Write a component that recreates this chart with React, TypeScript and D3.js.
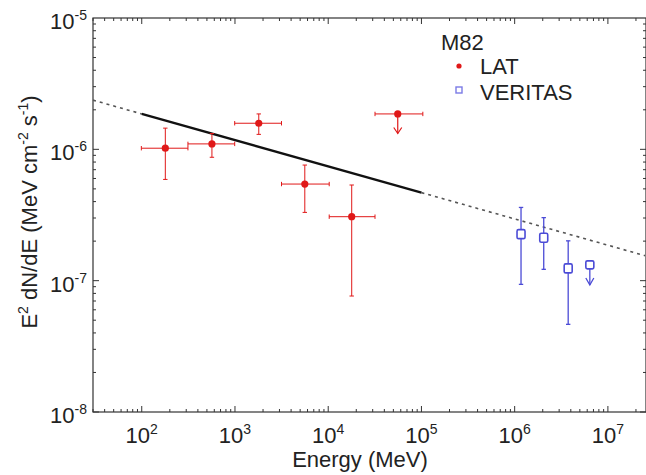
import React from "react";
import * as d3 from "d3";

// ---- data ----
const latE = [179, 566, 1800, 5610, 17870];
const latEmin = [99, 313, 993, 3155, 10250];
const latEmax = [313, 993, 3155, 10250, 31770];
const latF = [1.02e-6, 1.1e-6, 1.58e-6, 5.44e-7, 3.07e-7];
const latFlo = [5.9e-7, 8.7e-7, 1.3e-6, 3.31e-7, 7.64e-8];
const latFhi = [1.45e-6, 1.32e-6, 1.86e-6, 7.59e-7, 5.35e-7];

const latUlE = [55700];
const latUlEmin = [31770];
const latUlEmax = [103500];
const latUlF = [1.86e-6];
const latUlTip = [1.32e-6];

const verE = [1.17e6, 2.05e6, 3.75e6];
const verF = [2.26e-7, 2.12e-7, 1.24e-7];
const verFlo = [9.37e-8, 1.22e-7, 4.65e-8];
const verFhi = [3.61e-7, 3.02e-7, 2.01e-7];

const verUlE = [6.4e6];
const verUlF = [1.32e-7];
const verUlTip = [9.27e-8];

const modelE = [30, 100, 1e5, 2.5e7];
const modelF = [2.37e-6, 1.86e-6, 4.68e-7, 1.55e-7];

const xTickExp = [2, 3, 4, 5, 6, 7];
const yTickExp = [-5, -6, -7, -8];

const legendTitle = "M82";
const legendLabels = ["LAT", "VERITAS"];

// ---- layout ----
const W = 646;
const H = 475;
const left = 93;
const right = 645;
const frameRight = 646;
const top = 18;
const bottom = 412;

const RED = "#e01818";
const BLUE = "#4b4bd6";
const FONT = "'Liberation Sans', Arial, Helvetica, sans-serif";

export default function App() {
  const x = d3.scaleLog().domain([30, 2.5e7]).range([left, right]);
  const y = d3.scaleLog().domain([1e-8, 1e-5]).range([bottom, top]);

  const line = d3
    .line<[number, number]>()
    .x((d) => x(d[0]))
    .y((d) => y(d[1]));

  const pts = modelE.map((e, i) => [e, modelF[i]] as [number, number]);

  // minor ticks
  const xMinor: number[] = [];
  for (let p = 1; p <= 7; p++) {
    for (let m = 1; m <= 9; m++) {
      const v = m * Math.pow(10, p);
      if (v >= 30 && v <= 2.5e7) xMinor.push(v);
    }
  }
  const yMinor: number[] = [];
  for (let p = -8; p <= -6; p++) {
    for (let m = 1; m <= 9; m++) {
      const v = m * Math.pow(10, p);
      if (v >= 1e-8 && v <= 1e-5) yMinor.push(v);
    }
  }
  const isMajor = (v: number) => Math.abs(Math.log10(v) - Math.round(Math.log10(v))) < 1e-9;

  const cap = 2.2;

  return (
    <svg
      width={W}
      height={H}
      style={{ position: "absolute", left: 0, top: 0, background: "#fff" }}
      fontFamily={FONT}
    >
      <rect x={0} y={0} width={W} height={H} fill="#fff" />

      {/* frame */}
      <rect
        x={left}
        y={top}
        width={frameRight - left}
        height={bottom - top}
        fill="none"
        stroke="#333"
        strokeWidth={1.2}
      />

      {/* x ticks */}
      {xMinor.map((v, i) => {
        const len = isMajor(v) ? 6 : 3;
        const px = x(v);
        return (
          <g key={"xt" + i} stroke="#333" strokeWidth={1}>
            <line x1={px} x2={px} y1={bottom} y2={bottom - len} />
            <line x1={px} x2={px} y1={top} y2={top + len} />
          </g>
        );
      })}
      {/* y ticks */}
      {yMinor.map((v, i) => {
        const len = isMajor(v) ? 6 : 3;
        const py = y(v);
        return (
          <g key={"yt" + i} stroke="#333" strokeWidth={1}>
            <line x1={left} x2={left + len} y1={py} y2={py} />
            <line x1={frameRight} x2={frameRight - len} y1={py} y2={py} />
          </g>
        );
      })}

      {/* x tick labels */}
      {xTickExp.map((e) => (
        <text
          key={"xl" + e}
          x={x(Math.pow(10, e))}
          y={bottom + 31}
          textAnchor="middle"
          fontSize={22}
          fill="#222"
        >
          <tspan>10</tspan>
          <tspan dy={-9} fontSize={14}>
            {String(e)}
          </tspan>
        </text>
      ))}

      {/* y tick labels */}
      {yTickExp.map((e) => (
        <text
          key={"yl" + e}
          x={left - 6}
          y={y(Math.pow(10, e)) + 11}
          textAnchor="end"
          fontSize={22}
          fill="#222"
        >
          <tspan>10</tspan>
          <tspan dy={-9} fontSize={14}>
            {"-" + String(-e)}
          </tspan>
        </text>
      ))}

      {/* axis titles */}
      <text
        x={(left + right) / 2 - 9}
        y={467}
        textAnchor="middle"
        fontSize={22}
        fill="#222"
      >
        Energy (MeV)
      </text>
      <text
        transform={`translate(37, ${(top + bottom) / 2 - 3}) rotate(-90)`}
        textAnchor="middle"
        fontSize={22}
        fill="#222"
      >
        <tspan>E</tspan>
        <tspan dy={-9} fontSize={14}>2</tspan>
        <tspan dy={9}> dN/dE (MeV cm</tspan>
        <tspan dy={-9} fontSize={14}>-2</tspan>
        <tspan dy={9}> s</tspan>
        <tspan dy={-9} fontSize={14}>-1</tspan>
        <tspan dy={9}>)</tspan>
      </text>

      {/* model line */}
      <path
        d={line([pts[0], pts[1]]) || ""}
        fill="none"
        stroke="#555"
        strokeWidth={1.6}
        strokeDasharray="3,4"
      />
      <path
        d={line([pts[2], pts[3]]) || ""}
        fill="none"
        stroke="#555"
        strokeWidth={1.6}
        strokeDasharray="3,4"
      />
      <path d={line([pts[1], pts[2]]) || ""} fill="none" stroke="#111" strokeWidth={2.4} />

      {/* LAT points */}
      {latE.map((e, i) => {
        const px = x(e);
        const py = y(latF[i]);
        const x0 = x(latEmin[i]);
        const x1 = x(latEmax[i]);
        const y0 = y(latFhi[i]);
        const y1 = y(latFlo[i]);
        return (
          <g key={"lat" + i} stroke={RED} strokeWidth={1} fill="none">
            <line x1={x0} x2={x1} y1={py} y2={py} />
            <line x1={px} x2={px} y1={y0} y2={y1} />
            <line x1={x0} x2={x0} y1={py - cap} y2={py + cap} />
            <line x1={x1} x2={x1} y1={py - cap} y2={py + cap} />
            <line x1={px - cap} x2={px + cap} y1={y0} y2={y0} />
            <line x1={px - cap} x2={px + cap} y1={y1} y2={y1} />
            <circle cx={px} cy={py} r={3.6} fill={RED} stroke="none" />
          </g>
        );
      })}
      {latUlE.map((e, i) => {
        const px = x(e);
        const py = y(latUlF[i]);
        const x0 = x(latUlEmin[i]);
        const x1 = x(latUlEmax[i]);
        const tip = y(latUlTip[i]);
        return (
          <g key={"latul" + i} stroke={RED} strokeWidth={1.2} fill="none">
            <line x1={x0} x2={x1} y1={py} y2={py} strokeWidth={1} />
            <line x1={x0} x2={x0} y1={py - cap} y2={py + cap} strokeWidth={1} />
            <line x1={x1} x2={x1} y1={py - cap} y2={py + cap} strokeWidth={1} />
            <line x1={px} x2={px} y1={py} y2={tip} />
            <path d={`M${px - 4},${tip - 6} L${px},${tip} L${px + 4},${tip - 6}`} />
            <circle cx={px} cy={py} r={3.6} fill={RED} stroke="none" />
          </g>
        );
      })}

      {/* VERITAS points */}
      {verE.map((e, i) => {
        const px = x(e);
        const py = y(verF[i]);
        const y0 = y(verFhi[i]);
        const y1 = y(verFlo[i]);
        return (
          <g key={"ver" + i} stroke={BLUE} strokeWidth={1.3} fill="none">
            <line x1={px} x2={px} y1={y0} y2={py - 4.5} />
            <line x1={px} x2={px} y1={py + 4.5} y2={y1} />
            <line x1={px - cap} x2={px + cap} y1={y0} y2={y0} />
            <line x1={px - cap} x2={px + cap} y1={y1} y2={y1} />
            <rect x={px - 4} y={py - 4.5} width={8} height={9} rx={1.5} fill="#fff" strokeWidth={1.6} />
          </g>
        );
      })}
      {verUlE.map((e, i) => {
        const px = x(e);
        const py = y(verUlF[i]);
        const tip = y(verUlTip[i]);
        return (
          <g key={"verul" + i} stroke={BLUE} strokeWidth={1.3} fill="none">
            <line x1={px} x2={px} y1={py + 4} y2={tip} />
            <path d={`M${px - 4},${tip - 7} L${px},${tip} L${px + 4},${tip - 7}`} />
            <rect x={px - 4} y={py - 4} width={8} height={8} rx={1.5} fill="#fff" strokeWidth={1.6} />
          </g>
        );
      })}

      {/* legend */}
      <text x={441} y={50} fontSize={22} fill="#222">
        {legendTitle}
      </text>
      <circle cx={459} cy={66} r={2.6} fill={RED} />
      <text x={480} y={74} fontSize={22} fill="#222">
        {legendLabels[0]}
      </text>
      <rect x={456} y={87} width={6} height={6} fill="#fff" stroke="#7b7be6" strokeWidth={1.4} />
      <text x={480} y={100} fontSize={22} fill="#222">
        {legendLabels[1]}
      </text>
    </svg>
  );
}
